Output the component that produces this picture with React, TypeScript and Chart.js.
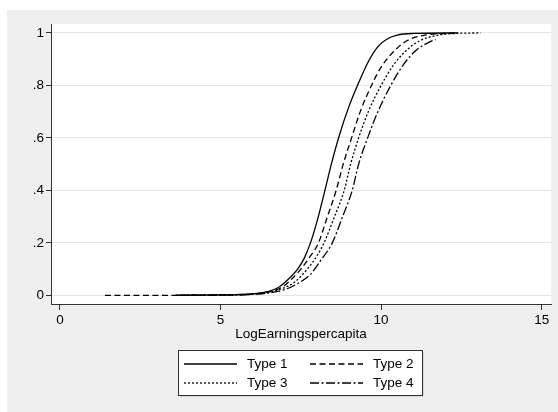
import React, { useEffect, useRef } from "react";
import { Chart, registerables } from "chart.js";

Chart.register(...registerables);

// ---- data ----
const seriesLabels = ["Type 1", "Type 2", "Type 3", "Type 4"];

const type1X = [3.6, 4.5, 5.5, 6.0, 6.5, 6.8, 7.1, 7.4, 7.6, 7.8, 8.0, 8.25, 8.45, 8.7, 9.0, 9.3, 9.6, 9.9, 10.2, 10.5, 11.0, 12.4];
const type1Y = [0.0, 0.001, 0.003, 0.006, 0.015, 0.03, 0.06, 0.1, 0.14, 0.2, 0.28, 0.4, 0.5, 0.61, 0.72, 0.81, 0.89, 0.948, 0.978, 0.992, 0.998, 1.0];

const type2X = [1.4, 3.5, 4.5, 5.5, 6.0, 6.5, 6.9, 7.2, 7.5, 7.8, 8.05, 8.3, 8.6, 8.82, 9.08, 9.35, 9.7, 10.0, 10.4, 10.8, 11.3, 12.0, 12.4];
const type2Y = [0.0, 0.0, 0.001, 0.002, 0.005, 0.013, 0.03, 0.06, 0.1, 0.15, 0.2, 0.29, 0.4, 0.5, 0.6, 0.7, 0.8, 0.87, 0.93, 0.97, 0.99, 0.998, 1.0];

const type3X = [3.6, 4.5, 5.5, 6.0, 6.5, 6.9, 7.3, 7.7, 8.0, 8.22, 8.55, 8.85, 9.05, 9.3, 9.6, 10.0, 10.4, 10.8, 11.2, 11.7, 12.3, 13.1];
const type3Y = [0.0, 0.001, 0.002, 0.004, 0.011, 0.025, 0.05, 0.1, 0.15, 0.2, 0.3, 0.4, 0.5, 0.6, 0.7, 0.8, 0.88, 0.935, 0.97, 0.99, 0.998, 1.0];

const type4X = [3.6, 4.5, 5.5, 6.0, 6.5, 7.0, 7.4, 7.8, 8.1, 8.48, 8.8, 9.1, 9.3, 9.58, 9.9, 10.3, 10.7, 11.1, 11.5, 11.7];
const type4Y = [0.0, 0.001, 0.002, 0.004, 0.009, 0.022, 0.045, 0.08, 0.13, 0.2, 0.3, 0.4, 0.5, 0.6, 0.7, 0.8, 0.88, 0.935, 0.965, 0.975];

const xTickValues = [0, 5, 10, 15];
const yTickValues = [0, 0.2, 0.4, 0.6, 0.8, 1];
const yTickLabels = ["0", ".2", ".4", ".6", ".8", "1"];
const xAxisTitle = "LogEarningspercapita";

const FONT = "'Liberation Sans', Arial, sans-serif";
const FS = 13.5;
const dashes = [[], [6, 3.5], [2, 2], [9, 2.5, 2, 2.5]];

function pairs(xs: number[], ys: number[]) {
  return xs.map((x, i) => ({ x, y: ys[i] }));
}

const bgPlugin = {
  id: "stataBg",
  beforeDraw(chart: any) {
    const { ctx, chartArea } = chart;
    ctx.save();
    ctx.fillStyle = "#ffffff";
    ctx.fillRect(0, 0, chart.width, chart.height);
    ctx.fillStyle = "#efefef";
    ctx.fillRect(7, 10, chart.width - 7, chart.height - 10);
    ctx.fillStyle = "#ffffff";
    ctx.fillRect(chartArea.left, chartArea.top, chartArea.right - chartArea.left, chartArea.bottom - chartArea.top);
    ctx.restore();
  },
};

const legendPlugin = {
  id: "stataLegend",
  afterDraw(chart: any) {
    const { ctx } = chart;
    const ds = chart.data.datasets;
    const bx = 178.5, by = 350.5, bw = 244, bh = 45;
    ctx.save();
    ctx.fillStyle = "#d8d8d8";
    ctx.fillRect(bx + 1.5, by + 1.5, bw, bh);
    ctx.fillStyle = "#ffffff";
    ctx.fillRect(bx, by, bw, bh);
    ctx.strokeStyle = "#333333";
    ctx.lineWidth = 1;
    ctx.strokeRect(bx, by, bw, bh);
    const cols = [184, 310];
    const rows = [364, 383];
    ctx.font = FS + "px " + FONT;
    ctx.textBaseline = "middle";
    ctx.textAlign = "left";
    ds.forEach((d: any, i: number) => {
      const cx = cols[i % 2];
      const cy = rows[Math.floor(i / 2)];
      ctx.beginPath();
      ctx.setLineDash(d.borderDash || []);
      ctx.strokeStyle = "#000";
      ctx.lineWidth = 1.3;
      ctx.moveTo(cx, cy);
      ctx.lineTo(cx + 53, cy);
      ctx.stroke();
      ctx.setLineDash([]);
      ctx.fillStyle = "#000";
      ctx.fillText(d.label, cx + 63, cy + 0.5);
    });
    ctx.restore();
  },
};

export default function App() {
  const ref = useRef<HTMLCanvasElement>(null);

  useEffect(() => {
    if (!ref.current) return;
    const raw = [
      pairs(type1X, type1Y),
      pairs(type2X, type2Y),
      pairs(type3X, type3Y),
      pairs(type4X, type4Y),
    ];
    const chart = new Chart(ref.current, {
      type: "line",
      data: {
        datasets: raw.map((d, i) => ({
          label: seriesLabels[i],
          data: d,
          borderColor: "#000000",
          borderWidth: 1.3,
          borderDash: dashes[i],
          pointRadius: 0,
          fill: false,
          cubicInterpolationMode: "monotone" as const,
        })),
      },
      options: {
        animation: false,
        responsive: false,
        maintainAspectRatio: false,
        layout: { padding: { top: 24, right: 7, left: 0, bottom: 0 } },
        plugins: {
          legend: { display: false },
          tooltip: { enabled: false },
        },
        scales: {
          x: {
            type: "linear",
            min: -0.28,
            max: 15.29,
            afterBuildTicks: (s: any) => {
              s.ticks = xTickValues.map((v) => ({ value: v }));
            },
            afterFit: (s: any) => {
              s.height = 108;
            },
            grid: {
              drawOnChartArea: false,
              drawTicks: true,
              tickLength: 6,
              tickColor: "#333333",
              color: "#333333",
            },
            border: { display: true, color: "#333333", width: 1 },
            ticks: {
              color: "#000",
              font: { family: FONT, size: FS },
              padding: 2,
              maxRotation: 0,
              callback: (v: any) => String(v),
            },
            title: {
              display: true,
              text: xAxisTitle,
              color: "#000",
              font: { family: FONT, size: FS },
              padding: { top: 0, bottom: 70 },
            },
          },
          y: {
            type: "linear",
            min: -0.033,
            max: 1.034,
            afterBuildTicks: (s: any) => {
              s.ticks = yTickValues.map((v) => ({ value: v }));
            },
            afterFit: (s: any) => {
              s.width = 51;
            },
            grid: {
              drawOnChartArea: true,
              drawTicks: true,
              tickLength: 5,
              color: "#e6e6e6",
              tickColor: "#333333",
            },
            border: { display: true, color: "#333333", width: 1 },
            ticks: {
              color: "#000",
              font: { family: FONT, size: FS },
              padding: 2,
              callback: (v: any) => {
                const idx = yTickValues.findIndex((t) => Math.abs(t - v) < 1e-9);
                return idx >= 0 ? yTickLabels[idx] : "";
              },
            },
          },
        },
      },
      plugins: [bgPlugin, legendPlugin],
    });
    return () => chart.destroy();
  }, []);

  return (
    <div style={{ position: "absolute", left: 0, top: 0, width: 558, height: 412 }}>
      <canvas ref={ref} width={558} height={412} style={{ width: 558, height: 412, display: "block" }} />
    </div>
  );
}
